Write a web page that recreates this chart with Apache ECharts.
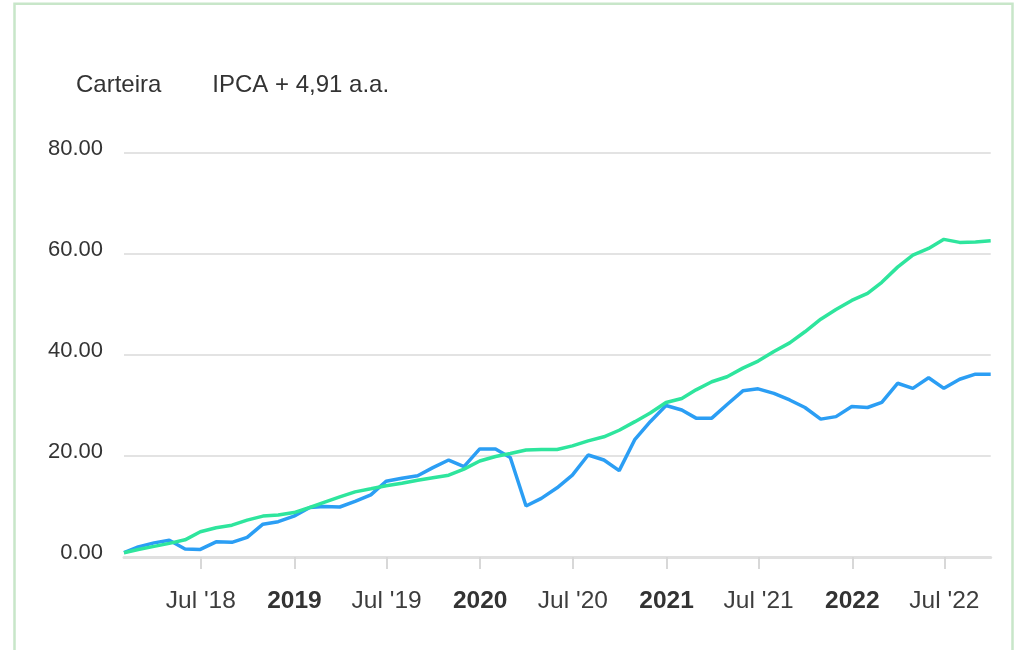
<!DOCTYPE html>
<html>
<head>
<meta charset="utf-8">
<script src="https://cdn.jsdelivr.net/npm/echarts@6/dist/echarts.min.js"></script>
<style>
  html, body { margin: 0; padding: 0; background: #ffffff; }
  #chart { width: 1020px; height: 650px; }
</style>
</head>
<body>
<div id="chart"></div>
<script>
// Monthly dates (month ends)
const dates = [
  '2018-01-31','2018-02-28','2018-03-31','2018-04-30','2018-05-31','2018-06-30',
  '2018-07-31','2018-08-31','2018-09-30','2018-10-31','2018-11-30','2018-12-31',
  '2019-01-31','2019-02-28','2019-03-31','2019-04-30','2019-05-31','2019-06-30',
  '2019-07-31','2019-08-31','2019-09-30','2019-10-31','2019-11-30','2019-12-31',
  '2020-01-31','2020-02-29','2020-03-31','2020-04-30','2020-05-31','2020-06-30',
  '2020-07-31','2020-08-31','2020-09-30','2020-10-31','2020-11-30','2020-12-31',
  '2021-01-31','2021-02-28','2021-03-31','2021-04-30','2021-05-31','2021-06-30',
  '2021-07-31','2021-08-31','2021-09-30','2021-10-31','2021-11-30','2021-12-31',
  '2022-01-31','2022-02-28','2022-03-31','2022-04-30','2022-05-31','2022-06-30',
  '2022-07-31','2022-08-31','2022-09-30'
];

// Series names
const seriesNames = ['Carteira', 'IPCA + 4,91 a.a.'];

// Carteira (blue)
const carteira = [
  0.85, 2.0, 2.8, 3.3, 1.6, 1.5, 3.0, 2.9, 3.9, 6.5, 7.0, 8.1,
  9.8, 10.0, 9.9, 11.0, 12.3, 15.0, 15.6, 16.1, 17.7, 19.2, 17.9, 21.4,
  21.4, 19.7, 10.1, 11.6, 13.7, 16.2, 20.2, 19.2, 17.1, 23.3, 26.8, 30.0,
  29.1, 27.5, 27.5, 30.2, 32.9, 33.3, 32.4, 31.1, 29.6, 27.3, 27.8, 29.8,
  29.6, 30.6, 34.4, 33.4, 35.5, 33.4, 35.2, 36.2, 36.2
];

// IPCA + 4,91 a.a. (green)
const ipca = [
  0.85, 1.5, 2.1, 2.7, 3.4, 5.0, 5.8, 6.3, 7.3, 8.1, 8.3, 8.8,
  9.8, 10.8, 11.9, 12.9, 13.5, 14.1, 14.6, 15.2, 15.7, 16.2, 17.4, 19.0,
  19.9, 20.5, 21.2, 21.3, 21.3, 22.0, 23.0, 23.8, 25.1, 26.8, 28.5, 30.6,
  31.4, 33.1, 34.7, 35.7, 37.4, 38.8, 40.7, 42.4, 44.6, 47.1, 49.0, 50.8,
  52.2, 54.4, 57.4, 59.8, 61.1, 62.9, 62.3, 62.4, 62.6
];

// X tick positions and labels
const tickDates = ['2018-07-01','2019-01-01','2019-07-01','2020-01-01','2020-07-01',
                   '2021-01-01','2021-07-01','2022-01-01','2022-07-01'];
const tickLabels = ["Jul '18","2019","Jul '19","2020","Jul '20","2021","Jul '21","2022","Jul '22"];

// Y ticks
const yTicks = [0, 20, 40, 60, 80];

const toTs = s => Date.parse(s + 'T00:00:00Z');
const tickTs = tickDates.map(toTs);
const labelByTs = {};
tickTs.forEach((t, i) => { labelByTs[t] = tickLabels[i]; });

const FONT = "'Liberation Sans', Arial, Helvetica, sans-serif";

const chart = echarts.init(document.getElementById('chart'), null, { renderer: 'canvas' });

chart.setOption({
  animation: false,
  backgroundColor: '#ffffff',
  textStyle: { fontFamily: FONT },
  graphic: [{
    type: 'rect',
    silent: true,
    z: 100,
    shape: { x: 14.5, y: 3.7, width: 998, height: 800 },
    style: { fill: 'none', stroke: '#c8e6c9', lineWidth: 2.5 }
  }],
  legend: {
    data: seriesNames,
    left: 66,
    top: 68.5,
    itemWidth: 0,
    itemHeight: 0,
    itemGap: 46,
    icon: 'rect',
    textStyle: { fontSize: 24, color: '#333333', fontFamily: FONT }
  },
  grid: { left: 124, right: 29.3, top: 153, bottom: 93, containLabel: false },
  xAxis: {
    type: 'value',
    min: toTs(dates[0]),
    max: toTs(dates[dates.length - 1]),
    axisLine: { show: true, onZero: false, lineStyle: { color: '#e0e0e0', width: 3 } },
    axisTick: {
      show: true, length: 12, customValues: tickTs,
      lineStyle: { color: '#d8d8d8', width: 2 }
    },
    splitLine: { show: false },
    axisLabel: {
      customValues: tickTs,
      margin: 31.5,
      fontSize: 24.5,
      color: '#3d3d3d',
      fontFamily: FONT,
      hideOverlap: false,
      showMinLabel: true,
      showMaxLabel: true,
      formatter: function (v) {
        const lbl = labelByTs[v] || '';
        if (lbl.indexOf('Jul') === 0) return lbl;
        return '{b|' + lbl + '}';
      },
      rich: {
        b: { fontWeight: 'bold', fontSize: 24.5, color: '#333333', fontFamily: FONT }
      }
    }
  },
  yAxis: {
    type: 'value',
    min: yTicks[0],
    max: yTicks[yTicks.length - 1],
    interval: 20,
    axisLine: { show: false },
    axisTick: { show: false },
    splitLine: { show: true, lineStyle: { color: '#e3e3e3', width: 2 } },
    axisLabel: {
      margin: 21,
      fontSize: 22,
      color: '#333333',
      fontFamily: FONT,
      verticalAlign: 'bottom',
      lineHeight: 9,
      formatter: v => v.toFixed(2)
    }
  },
  series: [
    {
      name: seriesNames[0],
      type: 'line',
      data: dates.map((d, i) => [toTs(d), carteira[i]]),
      showSymbol: false,
      symbol: 'none',
      color: '#2b9ef4',
      lineStyle: { color: '#2b9ef4', width: 3.5 },
      z: 3
    },
    {
      name: seriesNames[1],
      type: 'line',
      data: dates.map((d, i) => [toTs(d), ipca[i]]),
      showSymbol: false,
      symbol: 'none',
      color: '#2ee59d',
      lineStyle: { color: '#2ee59d', width: 3.5 },
      z: 4
    }
  ]
});
</script>
</body>
</html>
